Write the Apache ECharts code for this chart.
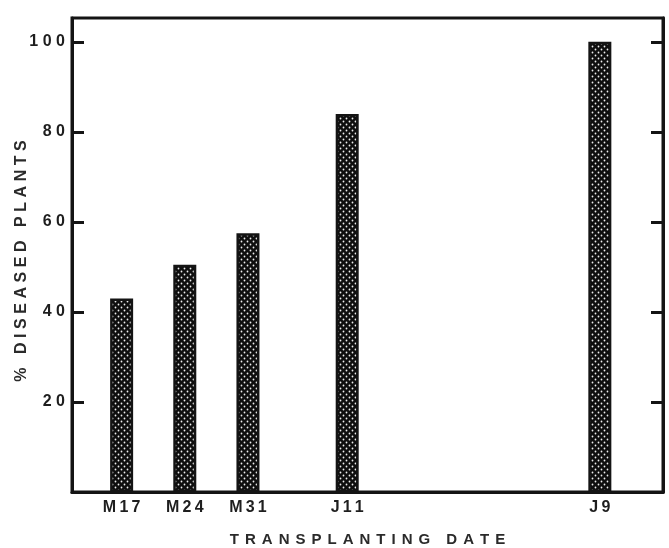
<!DOCTYPE html>
<html>
<head>
<meta charset="utf-8">
<script src="https://cdn.jsdelivr.net/npm/echarts@6/dist/echarts.min.js"></script>
<style>
  html, body { margin: 0; padding: 0; background: #fff; }
  #main { width: 669px; height: 548px; }
</style>
</head>
<body>
<div id="main"></div>
<script>
    var myChart = echarts.init(document.getElementById('main'));

    // transplanting dates, as days after May 17
    var dates = ['M17', 'M24', 'M31', 'J11', 'J9'];
    var days = [0, 7, 14, 25, 53];
    var diseased = [43, 50.5, 57.5, 84, 100];
    var yTicks = [20, 40, 60, 80, 100];

    // spread letters out like the typed figure
    function spaced(s, sep) {
        return s.split('').join(sep || '\u2009');
    }

    // dark dotted fill of the bars
    var tile = document.createElement('canvas');
    tile.width = 6;
    tile.height = 6;
    var ctx = tile.getContext('2d');
    ctx.fillStyle = '#0e0e0e';
    ctx.fillRect(0, 0, 6, 6);
    ctx.fillStyle = '#eeeeee';
    ctx.beginPath();
    ctx.arc(1.5, 1.5, 0.9, 0, Math.PI * 2);
    ctx.arc(4.5, 4.5, 0.9, 0, Math.PI * 2);
    ctx.fill();

    var ink = '#141414';
    var font = 'Liberation Sans';

    option = {
        animation: false,
        grid: {
            left: 72,
            right: 6,
            top: 18,
            bottom: 56,
            outerBoundsMode: 'none',
            show: true,
            borderColor: ink,
            borderWidth: 3
        },
        xAxis: {
            type: 'value',
            min: -5.5,
            max: 60,
            name: spaced('TRANSPLANTING DATE', '\u2009\u2009'),
            nameLocation: 'middle',
            nameGap: 40,
            nameMoveOverlap: false,
            nameTextStyle: { fontFamily: font, fontSize: 15, fontWeight: 'bold', color: '#2a2a2a' },
            splitLine: { show: false },
            axisLine: { onZero: false, lineStyle: { color: ink, width: 3 } },
            axisTick: { show: false },
            axisLabel: {
                customValues: days,
                margin: 8,
                fontFamily: font,
                fontSize: 16,
                fontWeight: 'bold',
                color: '#1e1e1e',
                formatter: function (v) {
                    var i = days.indexOf(v);
                    return i < 0 ? '' : spaced(dates[i]);
                }
            }
        },
        yAxis: [{
            type: 'value',
            min: 0,
            max: 105.3,
            name: spaced('% DISEASED PLANTS', '\u2009\u200a'),
            nameLocation: 'middle',
            nameGap: 42,
            nameMoveOverlap: false,
            nameTextStyle: { fontFamily: font, fontSize: 16, fontWeight: 'bold', color: '#2a2a2a', padding: [0, 12, 0, 0] },
            splitLine: { show: false },
            axisLine: { show: true, onZero: false, lineStyle: { color: ink, width: 3 } },
            axisTick: {
                customValues: yTicks,
                inside: true,
                length: 12,
                lineStyle: { color: ink, width: 3 }
            },
            axisLabel: {
                customValues: yTicks,
                margin: 7,
                fontFamily: font,
                fontSize: 16,
                fontWeight: 'bold',
                color: '#1e1e1e',
                formatter: function (v) {
                    return spaced(String(v), '\u2009\u200a');
                }
            }
        }, {
            type: 'value',
            position: 'right',
            min: 0,
            max: 105.3,
            splitLine: { show: false },
            axisLine: { show: true, onZero: false, lineStyle: { color: ink, width: 3 } },
            axisTick: {
                customValues: yTicks,
                inside: true,
                length: 12,
                lineStyle: { color: ink, width: 3 }
            },
            axisLabel: { show: false }
        }],
        series: [{
            type: 'bar',
            barWidth: 23,
            itemStyle: {
                color: { image: tile, repeat: 'repeat' },
                borderColor: ink,
                borderWidth: 2.5
            },
            data: days.map(function (d, i) {
                return [d, diseased[i]];
            })
        }]
    };

    myChart.setOption(option);
</script>
</body>
</html>
